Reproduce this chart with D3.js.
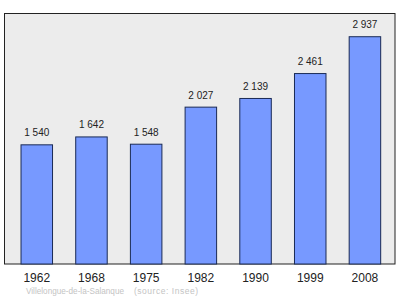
<!DOCTYPE html>
<html>
<head>
<meta charset="utf-8">
<script src="https://cdn.jsdelivr.net/npm/d3@7"></script>
<style>
  body { margin: 0; background: #fff; }
  svg { display: block; font-family: "Liberation Sans", Arial, sans-serif; }
</style>
</head>
<body>
<div id="chart"></div>
<script>
const years = ['1962', '1968', '1975', '1982', '1990', '1999', '2008'];
const population = [1540, 1642, 1548, 2027, 2139, 2461, 2937];
const captionPlace = 'Villelongue-de-la-Salanque';
const captionSource = '(source: Insee)';

const width = 400;
const height = 299;
const frame = { left: 4.5, top: 13.5, right: 395, bottom: 264 };

const fmt = v => d3.format(',')(v).replace(/,/g, '\u00a0');

const x = d3.scaleBand()
    .domain(years)
    .range([frame.left, 397.2])
    .paddingInner(0.424)
    .paddingOuter(0.302);

const y = d3.scaleLinear()
    .domain([0, 3237])
    .range([frame.bottom, frame.top]);

const svg = d3.select('#chart').append('svg')
    .attr('width', width)
    .attr('height', height);

// plot background
svg.append('rect')
    .attr('x', frame.left)
    .attr('y', frame.top)
    .attr('width', frame.right - frame.left)
    .attr('height', frame.bottom - frame.top)
    .attr('fill', '#ececec')
    .attr('stroke', '#222')
    .attr('stroke-width', 1);

// bars
svg.selectAll('rect.bar')
    .data(population)
    .enter().append('rect')
        .attr('class', 'bar')
        .attr('x', (d, i) => x(years[i]))
        .attr('y', d => y(d))
        .attr('width', x.bandwidth())
        .attr('height', d => frame.bottom - y(d))
        .attr('fill', '#7799ff')
        .attr('stroke', '#1a2a55')
        .attr('stroke-width', 1);

// value labels
svg.selectAll('text.value')
    .data(population)
    .enter().append('text')
        .attr('class', 'value')
        .attr('x', (d, i) => x(years[i]) + x.bandwidth() / 2)
        .attr('y', d => y(d) - 8.5)
        .attr('text-anchor', 'middle')
        .attr('font-size', 10)
        .attr('fill', '#222')
        .text(fmt);

// x axis labels
svg.selectAll('text.year')
    .data(years)
    .enter().append('text')
        .attr('class', 'year')
        .attr('x', d => x(d) + x.bandwidth() / 2)
        .attr('y', 281.5)
        .attr('text-anchor', 'middle')
        .attr('font-size', 12)
        .attr('fill', '#222')
        .text(d => d);

// caption
svg.append('text')
    .attr('x', 26)
    .attr('y', 294)
    .attr('font-size', 8.5)
    .attr('fill', '#c4c4c4')
    .attr('textLength', 98)
    .attr('lengthAdjust', 'spacingAndGlyphs')
    .text(captionPlace);
svg.append('text')
    .attr('x', 134)
    .attr('y', 294)
    .attr('font-size', 8.5)
    .attr('fill', '#c4c4c4')
    .attr('textLength', 64)
    .attr('lengthAdjust', 'spacing')
    .text(captionSource);
</script>
</body>
</html>
